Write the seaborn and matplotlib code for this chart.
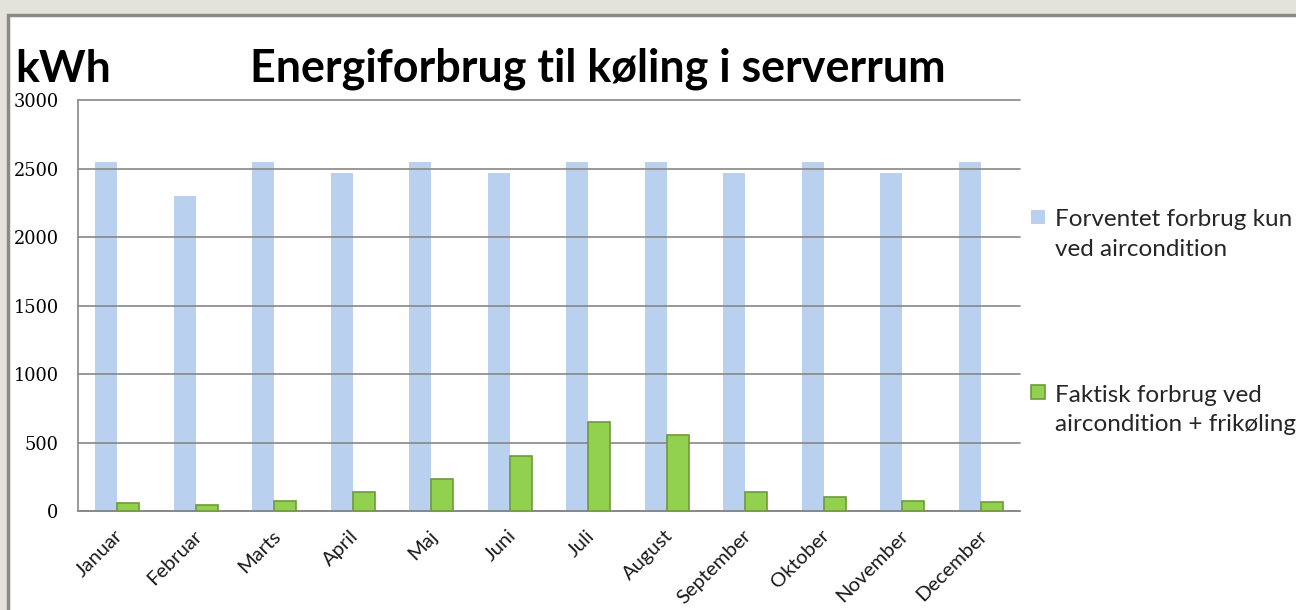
import matplotlib
matplotlib.use("Agg")
import matplotlib.pyplot as plt
import seaborn as sns
import pandas as pd
from matplotlib.patches import Rectangle, Patch
from matplotlib.legend_handler import HandlerPatch
import matplotlib.transforms as mtransforms

months = ["Januar", "Februar", "Marts", "April", "Maj", "Juni", "Juli",
          "August", "September", "Oktober", "November", "December"]
forventet = [2550, 2300, 2550, 2470, 2550, 2470, 2550, 2550, 2470, 2550, 2470, 2550]
faktisk = [55, 45, 72, 140, 232, 398, 648, 556, 140, 102, 73, 63]
serie_forventet = "Forventet forbrug kun\nved aircondition"
serie_faktisk = "Faktisk forbrug ved\naircondition + frikøling"
yticks = [0, 500, 1000, 1500, 2000, 2500, 3000]

BLUE = "#b9d0ee"
GREEN = "#92d050"
GREEN_EDGE = "#6e9a3a"
GRID = "#878787"

sns.set_theme(style="white")
plt.rcParams['font.family'] = ['Lato', 'DejaVu Sans']

df = pd.DataFrame({
    "Måned": months * 2,
    "kWh": forventet + faktisk,
    "Serie": [serie_forventet] * 12 + [serie_faktisk] * 12,
})

W, H = 1296, 610
fig = plt.figure(figsize=(W / 100, H / 100), dpi=100, facecolor="#e3e3dc")
fig.patches.append(Rectangle((8 / W, -0.05), 1.2, (H - 15) / H + 0.05,
                             transform=fig.transFigure, facecolor="white",
                             edgecolor="#8a8a8a", linewidth=2.5, zorder=-10))

ax = fig.add_axes([78 / W, 1 - 511 / H, 942 / W, 411 / H])
ax.set_facecolor("none")
sns.barplot(data=df, x="Måned", y="kWh", hue="Serie",
            palette=[BLUE, GREEN], width=0.56, gap=0, saturation=1,
            legend=False, ax=ax)

for p in ax.containers[0]:
    p.set_zorder(1)
    p.set_edgecolor("none")
    p.set_linewidth(0)
for p in ax.containers[1]:
    p.set_zorder(3)
    p.set_edgecolor(GREEN_EDGE)
    p.set_linewidth(1.2)

ax.set_axisbelow(False)
ax.set_ylim(0, 3000)
ax.set_xlim(-0.5, len(months) - 0.5)
ax.set_yticks(yticks)
ax.yaxis.grid(True, color=GRID, linewidth=1.2)
ax.xaxis.grid(False)
for gl in ax.get_ygridlines():
    gl.set_clip_on(False)
for s in ["top", "right"]:
    ax.spines[s].set_visible(False)
for s in ["left", "bottom"]:
    ax.spines[s].set_color(GRID)
    ax.spines[s].set_linewidth(1.2)

ax.set_xlabel("")
ax.set_ylabel("")
ax.tick_params(axis="y", length=0, pad=14)
for lbl in ax.get_yticklabels():
    lbl.set_fontfamily("DejaVu Serif")
    lbl.set_fontsize(12.8)
    lbl.set_color("black")

ax.tick_params(axis="x", length=0, pad=11.5)
ax.set_xticks(range(len(months)))
ax.set_xticklabels(months, rotation=45, ha="right", va="top",
                   rotation_mode="anchor", fontsize=14.5, color="#1a1a1a")
offset = mtransforms.ScaledTranslation(-2 / 72, 0, fig.dpi_scale_trans)
for lbl in ax.get_xticklabels():
    lbl.set_transform(lbl.get_transform() + offset)

fig.text(15 / W, 1 - 82 / H, "kWh", fontsize=32, fontweight="bold",
         va="baseline", ha="left", color="black")
fig.text(250 / W, 1 - 82 / H, "Energiforbrug til køling i serverrum",
         fontsize=32.3, fontweight="bold", va="baseline", ha="left", color="black")


def raised_square(legend, orig_handle, xdescent, ydescent, width, height, fontsize):
    side = 0.58 * fontsize
    return Rectangle((-xdescent, -ydescent + 0.78 * fontsize), side, side)


handles = [Patch(facecolor=BLUE, edgecolor="none"),
           Patch(facecolor=GREEN, edgecolor=GREEN_EDGE, linewidth=1.2)]
leg = ax.legend(handles, [serie_forventet, serie_faktisk], loc="upper left",
                bbox_to_anchor=(1031 / W, 1 - 209 / H), bbox_transform=fig.transFigure,
                frameon=False, fontsize=17.5, handlelength=0.7, handleheight=0.7,
                handletextpad=0.3, labelspacing=5.15, labelcolor="#262626",
                borderpad=0, borderaxespad=0,
                handler_map={Patch: HandlerPatch(patch_func=raised_square)})
for t in leg.get_texts():
    t.set_linespacing(1.5)

fig.savefig("out.png", dpi=100, facecolor=fig.get_facecolor())
